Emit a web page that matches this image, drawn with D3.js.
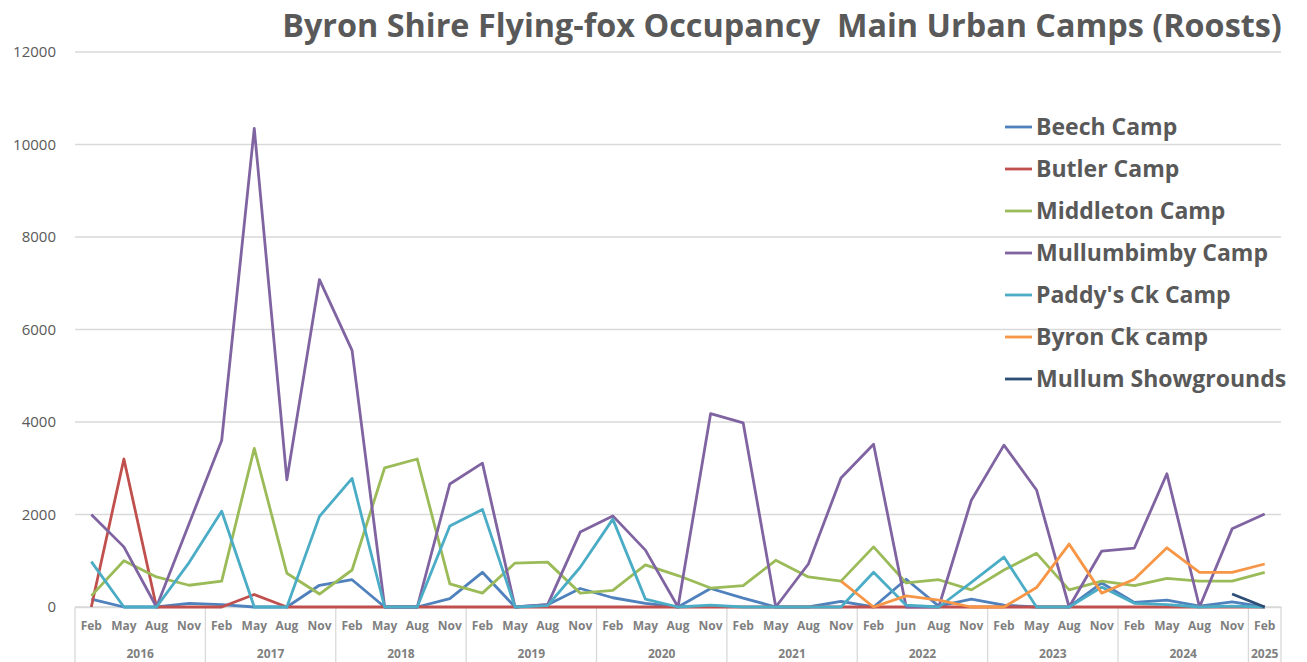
<!DOCTYPE html>
<html>
<head>
<meta charset="utf-8">
<script src="https://cdn.jsdelivr.net/npm/d3@7"></script>
<style>
  body { margin: 0; background: #fff; }
  svg { display: block; font-family: 'Open Sans', sans-serif; }
</style>
</head>
<body>
<svg></svg>
<script>
// category labels (2022 survey was in June, not May)
var months = ['Feb','May','Aug','Nov', 'Feb','May','Aug','Nov', 'Feb','May','Aug','Nov',
	'Feb','May','Aug','Nov', 'Feb','May','Aug','Nov', 'Feb','May','Aug','Nov',
	'Feb','Jun','Aug','Nov', 'Feb','May','Aug','Nov', 'Feb','May','Aug','Nov', 'Feb'];
var years = ['2016','2017','2018','2019','2020','2021','2022','2023','2024','2025'];
var yearCounts = [4,4,4,4,4,4,4,4,4,1];
var yTicks = [0,2000,4000,6000,8000,10000,12000];

var beech = [170,0,0,80, 50,0,0,470, 590,0,0,180, 750,0,50,400, 200,80,0,400,
	190,0,0,120, 0,600,20,170, 40,0,0,520, 100,150,20,110, 0];
var butler = [0,3200,0,0, 0,270,0,0, 0,0,0,0, 0,0,0,0, 0,0,0,0,
	0,0,0,0, 0,0,0,0, 0,0,0,0, 0,0,0,0, 0];
var middleton = [240,1000,650,470, 560,3430,730,280, 800,3010,3200,500, 300,950,970,300, 360,910,680,410,
	460,1010,650,560, 1300,520,590,370, 800,1160,370,560, 460,620,560,560, 750];
var mullumbimby = [2000,1300,0,1800, 3600,10350,2750,7080, 5550,0,0,2660, 3110,0,50,1620, 1970,1230,0,4180,
	3980,0,930,2790, 3520,0,0,2310, 3500,2530,0,1210, 1275,2880,0,1690, 2010];
var paddys = [980,0,0,960, 2070,0,0,1960, 2780,0,0,1750, 2110,0,30,860, 1900,170,0,40,
	0,0,0,0, 750,40,0,530, 1080,0,0,430, 80,50,0,20, 0];
var byronCk = [null,null,null,null, null,null,null,null, null,null,null,null, null,null,null,null, null,null,null,null,
	null,null,null,560, 0,240,150,0, 0,420,1360,300, 600,1280,750,750, 930];
var showgrounds = [null,null,null,null, null,null,null,null, null,null,null,null, null,null,null,null, null,null,null,null,
	null,null,null,null, null,null,null,null, null,null,null,null, null,null,null,280, 0];

var seriesNames = ['Beech Camp','Butler Camp','Middleton Camp','Mullumbimby Camp',"Paddy's Ck Camp",'Byron Ck camp','Mullum Showgrounds'];
var seriesValues = [beech, butler, middleton, mullumbimby, paddys, byronCk, showgrounds];
var seriesColors = ['#4F81BD','#C0504D','#9BBB59','#8064A2','#4BACC6','#F79646','#2C4D75'];

var width = 1307, height = 662;
var plotLeft = 75, plotRight = 1281, plotTop = 52, plotBottom = 607;

var svg = d3.select('svg')
	.attr('width', width)
	.attr('height', height);

var x = d3.scaleBand()
	.domain(d3.range(months.length))
	.range([plotLeft, plotRight]);
var y = d3.scaleLinear()
	.domain([0, 12000])
	.range([plotBottom, plotTop]);

// gridlines
svg.append('g').selectAll('line')
	.data(yTicks)
	.enter().append('line')
	.attr('x1', plotLeft).attr('x2', plotRight)
	.attr('y1', function(d) { return y(d); })
	.attr('y2', function(d) { return y(d); })
	.attr('stroke', '#D9D9D9')
	.attr('stroke-width', 1.3);

// y axis labels
var yAxis = svg.append('g')
	.attr('transform', 'translate(56,0)')
	.call(d3.axisLeft(y).tickValues(yTicks).tickSize(0).tickPadding(0).tickFormat(d3.format('d')));
yAxis.select('.domain').remove();
yAxis.selectAll('text')
	.attr('fill', '#595959')
	.style('font-size', '15px')
	.style('font-family', "'Open Sans', sans-serif");

// x axis: months row
var xAxis = svg.append('g')
	.attr('transform', 'translate(0,' + plotBottom + ')')
	.call(d3.axisBottom(x).tickSize(0).tickPadding(14).tickFormat(function(i) { return months[i]; }));
xAxis.select('.domain').attr('stroke', '#D9D9D9').attr('stroke-width', 1.3);
xAxis.selectAll('text')
	.attr('fill', '#7F7F7F')
	.style('font-size', '12px')
	.style('font-weight', 'bold')
	.style('font-family', "'Open Sans', sans-serif");

// year groups
var start = 0, yearBounds = [];
yearCounts.forEach(function(c, k) {
	yearBounds.push({ year: years[k], from: start, to: start + c });
	start += c;
});
var edge = function(i) { return i < months.length ? x(i) : plotRight; };
var gYears = svg.append('g');
gYears.selectAll('line')
	.data(yearBounds.map(function(b) { return b.from; }).concat([months.length]))
	.enter().append('line')
	.attr('x1', edge)
	.attr('x2', edge)
	.attr('y1', plotBottom).attr('y2', height)
	.attr('stroke', '#D9D9D9')
	.attr('stroke-width', 1.3);
gYears.selectAll('text')
	.data(yearBounds)
	.enter().append('text')
	.attr('x', function(b) { return (edge(b.from) + edge(b.to)) / 2; })
	.attr('y', 658)
	.attr('text-anchor', 'middle')
	.attr('fill', '#7F7F7F')
	.style('font-size', '12px')
	.style('font-weight', 'bold')
	.text(function(b) { return b.year; });

// lines
var line = d3.line()
	.defined(function(d) { return d !== null; })
	.x(function(d, i) { return x(i) + x.bandwidth() / 2; })
	.y(function(d) { return y(d); });

svg.append('g').selectAll('path')
	.data(seriesValues)
	.enter().append('path')
	.attr('d', line)
	.attr('fill', 'none')
	.attr('stroke', function(d, i) { return seriesColors[i]; })
	.attr('stroke-width', 2.8)
	.attr('stroke-linejoin', 'round');

// legend
var legend = svg.append('g').selectAll('g')
	.data(seriesNames)
	.enter().append('g')
	.attr('transform', function(d, i) { return 'translate(1005,' + (127 + i * 42) + ')'; });
legend.append('line')
	.attr('x1', 0).attr('x2', 27)
	.attr('stroke', function(d, i) { return seriesColors[i]; })
	.attr('stroke-width', 2.8);
legend.append('text')
	.attr('x', 31)
	.attr('dy', '0.35em')
	.attr('fill', '#595959')
	.style('font-size', '23px')
	.style('font-weight', 'bold')
	.text(function(d) { return d; });

// title
var title = svg.append('text')
	.attr('x', 782)
	.attr('y', 37)
	.attr('text-anchor', 'middle')
	.attr('fill', '#595959')
	.style('font-size', '30px')
	.style('font-weight', 'bold')
	.style('white-space', 'pre')
	.text('Byron Shire Flying-fox Occupancy  Main Urban Camps (Roosts)');
var tw = title.node().getComputedTextLength();
title.style('font-size', (30 * 1000 / tw) + 'px');
</script>
</body>
</html>
